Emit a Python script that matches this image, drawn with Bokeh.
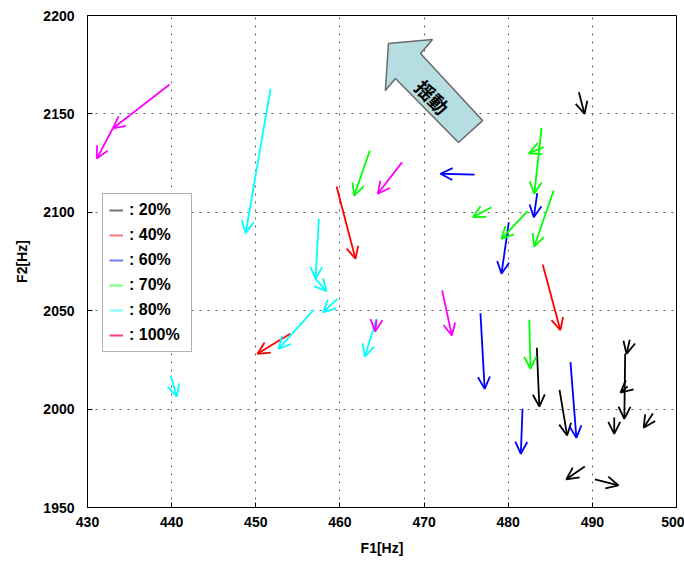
from bokeh.plotting import figure
from bokeh.models import (Arrow, OpenHead, ColumnDataSource, Range1d, FixedTicker,
                          Legend, LegendItem)
from bokeh.core.properties import value
from bokeh.embed import file_html
from bokeh.resources import INLINE

# ---------------- data ----------------
x_ticks = [430, 440, 450, 460, 470, 480, 490, 500]
y_ticks = [1950, 2000, 2050, 2100, 2150, 2200]

legend_labels = [": 20%", ": 40%", ": 60%", ": 70%", ": 80%", ": 100%"]
legend_colors = ["#707070", "#ff7878", "#7878ff", "#78ff78", "#78ffff", "#ff3c78"]
arrow_colors = ["#000000", "#ff0000", "#0000ff", "#00ff00", "#00ffff", "#ff00ff"]

# 20% (black)
k_x0 = [488.4, 494.45, 493.9, 494.2, 492.6, 497.2, 483.4, 486.1, 489.1, 490.3]
k_y0 = [2161.0, 2035.2, 2028.1, 2011.5, 1995.7, 1997.8, 2031.2, 2009.8, 1970.8, 1964.3]
k_x1 = [489.07, 494.06, 493.8, 493.35, 492.6, 496.1, 483.7, 487.0, 486.9, 493.1]
k_y1 = [2150.0, 2028.1, 1995.1, 2008.4, 1987.4, 1990.5, 2001.3, 1986.6, 1964.3, 1961.2]

# 40% (red)
r_x0 = [459.6, 454.1, 484.1]
r_y0 = [2113.1, 2038.3, 2073.5]
r_x1 = [461.85, 450.2, 486.2]
r_y1 = [2076.4, 2028.1, 2040.1]

# 60% (blue)
b_x0 = [476.0, 483.45, 480.07, 476.7, 481.7, 487.4]
b_y0 = [2119.1, 2109.7, 2095.0, 2048.7, 2000.2, 2023.9]
b_x1 = [471.95, 483.04, 479.2, 477.2, 481.5, 488.1]
b_y1 = [2119.6, 2097.5, 2068.8, 2010.3, 1977.3, 1985.4]

# 70% (green)
g_x0 = [463.55, 484.2, 483.96, 485.4, 478.0, 482.3, 482.5]
g_y0 = [2131.4, 2133.1, 2142.9, 2111.1, 2102.6, 2100.6, 2045.4]
g_x1 = [461.7, 482.45, 483.1, 483.1, 475.8, 479.2, 482.65]
g_y1 = [2108.5, 2130.0, 2109.4, 2082.6, 2097.5, 2086.5, 2020.5]

# 80% (cyan)
c_x0 = [451.75, 457.5, 457.1, 459.7, 456.9, 439.9, 464.35]
c_y0 = [2162.8, 2096.7, 2066.2, 2056.0, 2050.5, 2017.1, 2045.9]
c_x1 = [448.8, 457.1, 458.4, 458.0, 452.7, 440.6, 462.96]
c_y1 = [2089.4, 2066.2, 2059.9, 2049.2, 2030.6, 2006.4, 2026.7]

# 100% (magenta)
m_x0 = [439.75, 433.0, 467.4, 472.15, 464.35]
m_y0 = [2164.9, 2142.6, 2125.5, 2060.3, 2045.5]
m_x1 = [433.0, 431.1, 464.5, 473.3, 464.2]
m_y1 = [2142.6, 2127.3, 2109.4, 2037.4, 2039.4]

groups = [(k_x0, k_y0, k_x1, k_y1), (r_x0, r_y0, r_x1, r_y1), (b_x0, b_y0, b_x1, b_y1),
          (g_x0, g_y0, g_x1, g_y1), (c_x0, c_y0, c_x1, c_y1), (m_x0, m_y0, m_x1, m_y1)]

# block-arrow annotation ("揺動")
note_x = [465.77, 471.0, 469.58, 476.95, 474.09, 466.6, 465.4]
note_y = [2185.8, 2187.8, 2180.7, 2146.6, 2135.5, 2168.0, 2161.9]
note_text = ["揺動"]
note_tx = [471.0]
note_ty = [2158.8]

# ---------------- figure ----------------
p = figure(width=684, height=567, output_backend="svg", toolbar_location=None,
           x_range=Range1d(430, 500), y_range=Range1d(1950, 2200),
           min_border_left=87, min_border_right=8, min_border_top=15, min_border_bottom=60)
p.background_fill_color = "white"
p.border_fill_color = "white"
p.outline_line_color = "black"
p.outline_line_width = 1

for ax in (p.xaxis[0], p.yaxis[0]):
    ax.axis_line_color = "black"
    ax.major_tick_in = 5
    ax.major_tick_out = 0
    ax.minor_tick_in = 0
    ax.minor_tick_out = 0
    ax.major_tick_line_color = "black"
    ax.major_label_text_font = "Liberation Sans"
    ax.major_label_text_font_style = "bold"
    ax.major_label_text_font_size = "14px"
    ax.major_label_text_color = "black"
    ax.axis_label_text_font = "Liberation Sans"
    ax.axis_label_text_font_style = "bold"
    ax.axis_label_text_font_size = "14px"
    ax.axis_label_text_color = "black"

p.xaxis.ticker = FixedTicker(ticks=x_ticks)
p.yaxis.ticker = FixedTicker(ticks=y_ticks)
p.xaxis.axis_label = "F1[Hz]"
p.yaxis.axis_label = "F2[Hz]"
p.xaxis.major_label_standoff = 9
p.yaxis.major_label_standoff = 13
p.xaxis.axis_label_standoff = 10
p.yaxis.axis_label_standoff = 10

p.xgrid[0].ticker = FixedTicker(ticks=x_ticks)
p.ygrid[0].ticker = FixedTicker(ticks=y_ticks)
for g in (p.xgrid[0], p.ygrid[0]):
    g.grid_line_color = "#606060"
    g.grid_line_dash = "2 6"
    g.grid_line_width = 1

# block arrow
p.patch(x=note_x, y=note_y, fill_color="#b5dde2", line_color="#6a6a6a", line_width=1.5)
p.text(x=note_tx, y=note_ty, text=note_text, angle=-0.8,
       text_font=value("Noto Sans CJK JP"), text_font_style="bold",
       text_font_size="19px", text_align="center", text_baseline="middle",
       text_color="black")

# arrows
for (x0, y0, x1, y1), col in zip(groups, arrow_colors):
    src = ColumnDataSource(dict(x0=x0, y0=y0, x1=x1, y1=y1))
    p.add_layout(Arrow(end=OpenHead(size=12, line_color=col, line_width=1.8),
                       x_start="x0", y_start="y0", x_end="x1", y_end="y1",
                       source=src, line_color=col, line_width=1.8))

# legend
nan = float("nan")
items = []
for lab, col in zip(legend_labels, legend_colors):
    r = p.line(x=[nan, nan], y=[nan, nan], line_color=col, line_width=2)
    items.append(LegendItem(label=lab, renderers=[r]))

legend = Legend(items=items, location=(15, 155), padding=6, spacing=5,
                glyph_width=14, glyph_height=20, label_height=20, label_width=56,
                label_standoff=6, margin=0,
                label_text_font="Liberation Sans", label_text_font_style="bold",
                label_text_font_size="16px", label_text_color="black",
                border_line_color="#666666", border_line_width=1.5,
                background_fill_color="white", background_fill_alpha=1)
p.add_layout(legend, "center")

open("out.html", "w").write(file_html(p, INLINE))
